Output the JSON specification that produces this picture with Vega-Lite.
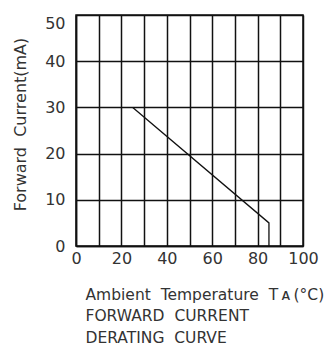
{
  "$schema": "https://vega.github.io/schema/vega-lite/v6.json",
  "width": 227,
  "height": 231,
  "autosize": "none",
  "padding": {"left": 76, "top": 15, "right": 28, "bottom": 99},
  "background": "white",
  "config": {
    "view": {"stroke": "#111", "strokeWidth": 1.5},
    "font": "DejaVu Sans",
    "axis": {
      "labelFont": "DejaVu Sans",
      "titleFont": "DejaVu Sans",
      "labelFontWeight": "normal",
      "titleFontWeight": "normal",
      "labelColor": "#333",
      "titleColor": "#333",
      "gridColor": "#111",
      "gridWidth": 1.5,
      "gridOpacity": 1,
      "domainColor": "#111",
      "domainWidth": 1.5,
      "ticks": false,
      "tickSize": 0
    }
  },
  "data": {
    "values": [
      {"temp": 25, "current": 30},
      {"temp": 85, "current": 5},
      {"temp": 85, "current": 0}
    ]
  },
  "mark": {"type": "line", "color": "#111", "strokeWidth": 1.3},
  "encoding": {
    "x": {
      "field": "temp",
      "type": "quantitative",
      "scale": {"domain": [0, 100], "nice": false, "zero": false},
      "axis": {
        "values": [0, 10, 20, 30, 40, 50, 60, 70, 80, 90, 100],
        "labelExpr": "datum.value % 20 == 0 ? datum.label : ''",
        "labelFontSize": 16,
        "labelBaseline": "alphabetic",
        "labelPadding": 17,
        "labelFlush": false,
        "labelOverlap": false,
        "title": ["Ambient\u00a0\u00a0Temperature\u00a0\u00a0T\u2009ᴀ\u2009(°C)", "FORWARD\u00a0\u00a0CURRENT", "DERATING\u00a0\u00a0CURVE"],
        "titleFontSize": 15.5,
        "titleLineHeight": 21.5,
        "titleAnchor": "start",
        "titleAlign": "left",
        "titleBaseline": "alphabetic",
        "titleX": 9,
        "titleY": 53
      }
    },
    "y": {
      "field": "current",
      "type": "quantitative",
      "scale": {"domain": [0, 50], "nice": false},
      "axis": {
        "values": [0, 10, 20, 30, 40, 50],
        "labelFontSize": 16,
        "labelPadding": 11,
        "labelFlush": false,
        "labelOverlap": false,
        "labelBaseline": {"condition": {"test": "datum.value == 50", "value": "top"}, "value": "middle"},
        "title": "Forward\u00a0\u00a0Current(mA)",
        "titleFontSize": 16,
        "titleAngle": -90,
        "titleAlign": "center",
        "titleBaseline": "alphabetic",
        "titleX": -51,
        "titleY": 109
      }
    },
    "order": {"field": "temp", "type": "quantitative"}
  }
}
